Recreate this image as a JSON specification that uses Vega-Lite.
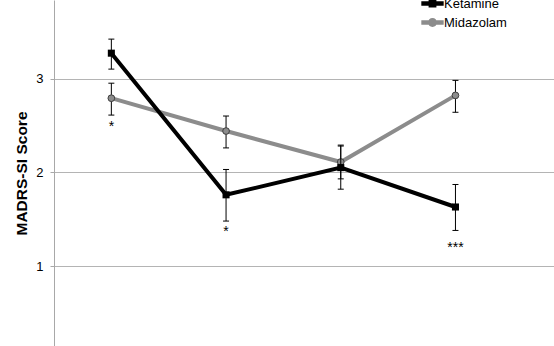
{
  "$schema": "https://vega.github.io/schema/vega-lite/v6.json",
  "width": 500,
  "height": 346,
  "autosize": {"type": "none"},
  "padding": {"left": 54, "top": 0, "right": 0, "bottom": 0},
  "background": "white",
  "config": {
    "view": {"stroke": null},
    "font": "Liberation Sans",
    "legend": {"labelFontSize": 13, "symbolSize": 400, "labelFont": "Liberation Sans"}
  },
  "datasets": {
    "scores": [
      {"group": "Ketamine", "time": 1, "mean": 3.27, "lo": 3.10, "hi": 3.42},
      {"group": "Ketamine", "time": 2, "mean": 1.76, "lo": 1.48, "hi": 2.03},
      {"group": "Ketamine", "time": 3, "mean": 2.05, "lo": 1.82, "hi": 2.28},
      {"group": "Ketamine", "time": 4, "mean": 1.63, "lo": 1.38, "hi": 1.87},
      {"group": "Midazolam", "time": 1, "mean": 2.79, "lo": 2.61, "hi": 2.95},
      {"group": "Midazolam", "time": 2, "mean": 2.44, "lo": 2.26, "hi": 2.60},
      {"group": "Midazolam", "time": 3, "mean": 2.11, "lo": 1.93, "hi": 2.29},
      {"group": "Midazolam", "time": 4, "mean": 2.82, "lo": 2.64, "hi": 2.98}
    ],
    "stars": [
      {"time": 1, "y": 2.516, "label": "*"},
      {"time": 2, "y": 1.40, "label": "*"},
      {"time": 4, "y": 1.22, "label": "***"}
    ]
  },
  "data": {"name": "scores"},
  "encoding": {
    "x": {"field": "time", "type": "quantitative", "scale": {"domain": [0.5, 4.859], "nice": false, "zero": false}, "axis": null}
  },
  "layer": [
    {
      "mark": {"type": "rule", "strokeWidth": 0},
      "encoding": {
        "y": {
          "field": "mean", "type": "quantitative",
          "scale": {"domain": [0.148, 3.837], "nice": false, "zero": false},
          "axis": {
            "values": [1, 2, 3],
            "format": "d",
            "grid": true,
            "gridColor": "#b4b4b4",
            "gridWidth": 1,
            "domainColor": "#a8a8a8",
            "tickColor": "#a8a8a8",
            "tickSize": 4,
            "labelFontSize": 13,
            "labelColor": "#000000",
            "labelPadding": 7,
            "title": "MADRS-SI Score",
            "titleFontSize": 15.5,
            "titleFontWeight": "bold",
            "titleColor": "#000000",
            "titlePadding": 6
          }
        },
        "y2": {"field": "mean"}
      }
    },
    {
      "transform": [{"filter": "datum.group === 'Midazolam'"}],
      "mark": {"type": "line", "stroke": "#8c8c8c", "strokeWidth": 4},
      "encoding": {"y": {"field": "mean", "type": "quantitative"}}
    },
    {
      "transform": [{"filter": "datum.group === 'Midazolam'"}],
      "mark": {"type": "rule", "color": "#000000", "strokeWidth": 1},
      "encoding": {"y": {"field": "lo", "type": "quantitative"}, "y2": {"field": "hi"}}
    },
    {
      "transform": [{"filter": "datum.group === 'Midazolam'"}],
      "mark": {"type": "rule", "color": "#000000", "strokeWidth": 1, "xOffset": -3, "x2Offset": 3},
      "encoding": {"x2": {"field": "time"}, "y": {"field": "lo", "type": "quantitative"}}
    },
    {
      "transform": [{"filter": "datum.group === 'Midazolam'"}],
      "mark": {"type": "rule", "color": "#000000", "strokeWidth": 1, "xOffset": -3, "x2Offset": 3},
      "encoding": {"x2": {"field": "time"}, "y": {"field": "hi", "type": "quantitative"}}
    },
    {
      "transform": [{"filter": "datum.group === 'Midazolam'"}],
      "mark": {"type": "point", "shape": "circle", "filled": true, "fill": "#8c8c8c", "stroke": "#404040", "strokeWidth": 1, "size": 45, "opacity": 1},
      "encoding": {"y": {"field": "mean", "type": "quantitative"}}
    },
    {
      "transform": [{"filter": "datum.group === 'Ketamine'"}],
      "mark": {"type": "line", "stroke": "#000000", "strokeWidth": 4},
      "encoding": {"y": {"field": "mean", "type": "quantitative"}}
    },
    {
      "transform": [{"filter": "datum.group === 'Ketamine'"}],
      "mark": {"type": "rule", "color": "#000000", "strokeWidth": 1},
      "encoding": {"y": {"field": "lo", "type": "quantitative"}, "y2": {"field": "hi"}}
    },
    {
      "transform": [{"filter": "datum.group === 'Ketamine'"}],
      "mark": {"type": "rule", "color": "#000000", "strokeWidth": 1, "xOffset": -3, "x2Offset": 3},
      "encoding": {"x2": {"field": "time"}, "y": {"field": "lo", "type": "quantitative"}}
    },
    {
      "transform": [{"filter": "datum.group === 'Ketamine'"}],
      "mark": {"type": "rule", "color": "#000000", "strokeWidth": 1, "xOffset": -3, "x2Offset": 3},
      "encoding": {"x2": {"field": "time"}, "y": {"field": "hi", "type": "quantitative"}}
    },
    {
      "transform": [{"filter": "datum.group === 'Ketamine'"}],
      "mark": {"type": "point", "shape": "square", "filled": true, "fill": "#000000", "size": 50, "opacity": 1},
      "encoding": {"y": {"field": "mean", "type": "quantitative"}}
    },
    {
      "mark": {"type": "point", "filled": true, "opacity": 0},
      "encoding": {
        "y": {"field": "mean", "type": "quantitative"},
        "fill": {
          "field": "group", "type": "nominal",
          "scale": {"domain": ["Ketamine", "Midazolam"], "range": ["#000000", "#8c8c8c"]},
          "legend": {
            "title": null, "orient": "none", "legendX": 367, "legendY": -8,
            "padding": 0, "rowPadding": 0, "symbolSize": 400, "symbolStrokeWidth": 0,
            "symbolOpacity": 1, "labelFontSize": 13, "labelFont": "Liberation Sans",
            "labelColor": "#000000", "labelOffset": 0,
            "encode": {
              "labels": {"update": {"fontSize": {"value": 13}}},
              "symbols": {"update": {"size": {"value": 500}, "opacity": {"value": 1}}}
            }
          }
        },
        "shape": {
          "field": "group", "type": "nominal",
          "scale": {"domain": ["Ketamine", "Midazolam"], "range": [
            "M-1,-0.2H1V0.2H-1Z M-0.35,-0.35H0.35V0.35H-0.35Z",
            "M-1,-0.2H1V0.2H-1Z M-0.4,0A0.4,0.4,0,1,1,0.4,0A0.4,0.4,0,1,1,-0.4,0Z"
          ]},
          "legend": {
            "title": null, "orient": "none", "legendX": 367, "legendY": -8,
            "padding": 0, "rowPadding": 0, "symbolSize": 400, "symbolStrokeWidth": 0,
            "symbolOpacity": 1, "labelFontSize": 13, "labelFont": "Liberation Sans",
            "labelColor": "#000000", "labelOffset": 0,
            "encode": {
              "labels": {"update": {"fontSize": {"value": 13}}},
              "symbols": {"update": {"size": {"value": 500}, "opacity": {"value": 1}}}
            }
          }
        }
      }
    },
    {
      "data": {"name": "stars"},
      "mark": {"type": "text", "fontSize": 14, "color": "#000000", "baseline": "middle", "align": "center", "dy": 3},
      "encoding": {
        "y": {"field": "y", "type": "quantitative"},
        "text": {"field": "label"}
      }
    }
  ]
}
